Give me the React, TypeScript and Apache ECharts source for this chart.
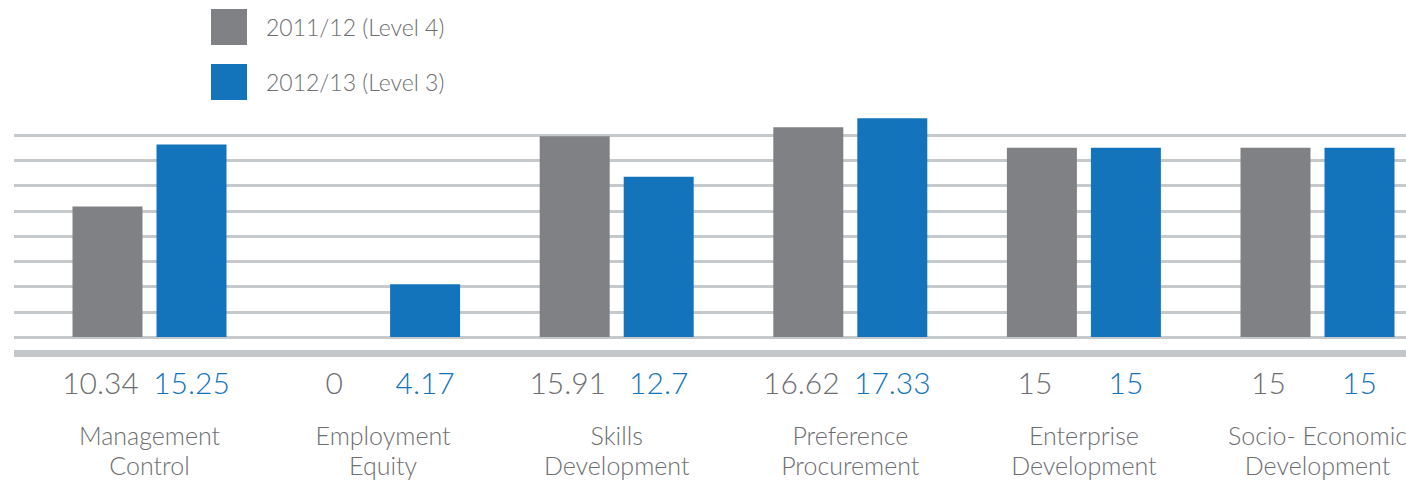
import React, { useEffect, useRef } from "react";
import * as echarts from "echarts";

const categories = [
  "Management\nControl",
  "Employment\nEquity",
  "Skills\nDevelopment",
  "Preference\nProcurement",
  "Enterprise\nDevelopment",
  "Socio- Economic\nDevelopment",
];
const series2011 = [10.34, 0, 15.91, 16.62, 15, 15];
const series2012 = [15.25, 4.17, 12.7, 17.33, 15, 15];
const seriesNames = ["2011/12 (Level 4)", "2012/13 (Level 3)"];

const GRAY = "#808184";
const BLUE = "#1374bb";
const TEXT = "#6d6e71";
const FONT = "Lato, 'Open Sans', sans-serif";

export default function App() {
  const ref = useRef<HTMLDivElement>(null);
  useEffect(() => {
    document.body.style.margin = "0";
    const chart = echarts.init(ref.current!, null, { renderer: "svg" });
    chart.setOption({
      animation: false,
      backgroundColor: "#ffffff",
      legend: {
        orient: "vertical",
        left: 211,
        top: 9,
        padding: 0,
        itemWidth: 36,
        itemHeight: 36,
        itemGap: 19,
        icon: "rect",
        data: seriesNames,
        textStyle: {
          fontSize: 23,
          color: TEXT,
          fontFamily: FONT,
          fontWeight: 300,
          padding: [0, 0, 0, 14],
        },
      },
      grid: [
        { left: 14, right: 34, top: 135, bottom: 144 },
        { left: 32.7, right: 5.7, top: 135, bottom: 144 },
      ],
      xAxis: [
        {
          gridIndex: 0,
          type: "category",
          data: categories,
          axisLine: {
            show: true,
            onZero: false,
            lineStyle: { color: "#c3c7c9", width: 7, cap: "butt" },
          },
          offset: 16.5,
          axisTick: { show: false },
          axisLabel: { show: false },
          splitLine: { show: false },
        },
        {
          gridIndex: 1,
          type: "category",
          data: categories,
          axisLine: { show: false },
          axisTick: { show: false },
          axisLabel: {
            margin: 83,
            fontSize: 25,
            lineHeight: 30,
            color: TEXT,
            fontFamily: FONT,
            fontWeight: 300,
            interval: 0,
          },
        },
      ],
      yAxis: [
        {
          gridIndex: 0,
          type: "value",
          min: 0,
          max: 16,
          interval: 2,
          axisLine: { show: false },
          axisTick: { show: false },
          axisLabel: { show: false },
          splitLine: { show: true, lineStyle: { color: "#c6c9cb", width: 3 } },
        },
        {
          gridIndex: 1,
          type: "value",
          min: 0,
          max: 16,
          interval: 2,
          show: false,
          splitLine: { show: false },
        },
      ],
      series: [
        {
          name: seriesNames[0],
          type: "bar",
          xAxisIndex: 1,
          yAxisIndex: 1,
          data: series2011,
          barWidth: 70,
          barGap: "20%",
          clip: false,
          itemStyle: { color: GRAY },
          label: {
            show: true,
            position: "bottom",
            distance: 30,
            offset: [-7, 0],
            fontSize: 30,
            lineHeight: 30,
            color: TEXT,
            fontFamily: FONT,
            fontWeight: 300,
          },
        },
        {
          name: seriesNames[1],
          type: "bar",
          xAxisIndex: 1,
          yAxisIndex: 1,
          data: series2012,
          barWidth: 70,
          barGap: "20%",
          clip: false,
          itemStyle: { color: BLUE },
          label: {
            show: true,
            position: "bottom",
            distance: 30,
            fontSize: 30,
            lineHeight: 30,
            color: BLUE,
            fontFamily: FONT,
            fontWeight: 300,
          },
        },
      ],
    });
    return () => chart.dispose();
  }, []);
  return (
    <div
      style={{
        position: "absolute",
        left: 0,
        top: 0,
        width: 1406,
        height: 481,
        overflow: "hidden",
      }}
    >
      <div ref={ref} style={{ width: 1440, height: 481 }} />
    </div>
  );
}
